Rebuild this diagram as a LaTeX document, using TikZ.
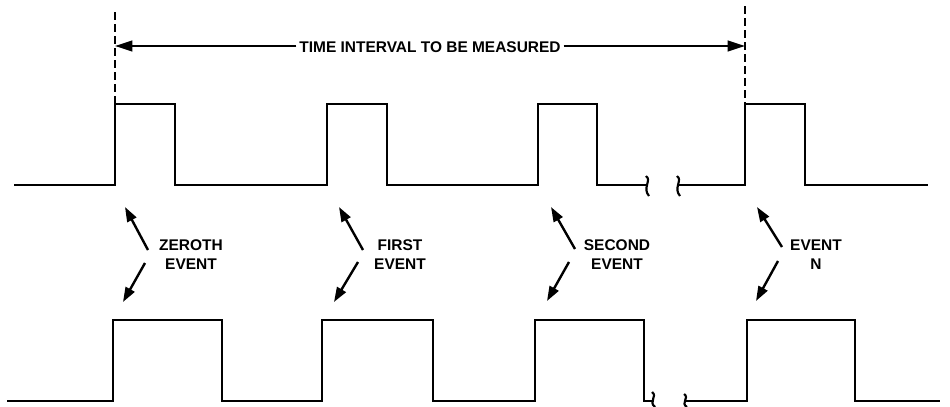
\documentclass[tikz,border=0pt]{standalone}
\usepackage{fontspec}
\setmainfont{Liberation Sans}
\usetikzlibrary{arrows.meta}
\begin{document}
\begin{tikzpicture}[x=0.75pt,y=-0.75pt,
  wave/.style={line width=1.8pt,line join=miter},
  dashline/.style={line width=1.5pt,dash pattern=on 6pt off 3pt},
  spanarrow/.style={line width=1.6pt,-{Triangle[length=13pt,width=8pt]}},
  evarrow/.style={line width=1.8pt,-{Triangle[length=11pt,width=7.5pt]}},
  lbl/.style={font=\fontsize{11.6}{14.2}\selectfont\bfseries,align=center,inner sep=1pt},
  brk/.style={line width=1.6pt}]
\useasboundingbox (0,0) rectangle (950,407);
% top waveform
\draw[wave] (14,185) -- (115,185) -- (115,104) -- (175,104) -- (175,185)
  -- (327,185) -- (327,104) -- (387,104) -- (387,185)
  -- (538,185) -- (538,104) -- (597,104) -- (597,185) -- (648,185);
\draw[brk] (646,176) .. controls (652,180) and (642,188) .. (649,196);
\draw[brk] (677,176) .. controls (683,180) and (673,188) .. (680,196);
\draw[wave] (679,185) -- (745,185) -- (745,104) -- (805,104) -- (805,185) -- (928,185);
% dashed markers
\coordinate (d0t) at (115,12);
\coordinate (d0b) at (115,104);
\coordinate (dnt) at (745,6);
\coordinate (dnb) at (745,104);
\draw[dashline] (d0t) -- (d0b);
\draw[dashline] (dnt) -- (dnb);
% interval label and arrows
\node[lbl,inner sep=2pt] (ti) at (430,47) {TIME INTERVAL TO BE MEASURED};
\coordinate (al) at (115,46);
\coordinate (ar) at (745,46);
\draw[spanarrow] (ti.west |- al) -- (al);
\draw[spanarrow] (ti.east |- ar) -- (ar);
% bottom waveform
\draw[wave] (7,401) -- (113,401) -- (113,320) -- (222,320) -- (222,401)
  -- (322,401) -- (322,320) -- (433,320) -- (433,401)
  -- (535,401) -- (535,320) -- (644,320) -- (644,401) -- (654,401);
\draw[brk] (652,392) .. controls (658,396) and (648,402) .. (655,407);
\draw[brk] (684,394) .. controls (690,398) and (680,403) .. (687,407);
\draw[wave] (686,401) -- (747,401) -- (747,320) -- (855,320) -- (855,401) -- (940,401);
% event labels
\node[lbl] (e0) at (191,254.5) {ZEROTH\\EVENT};
\node[lbl] (e1) at (400,254.5) {FIRST\\EVENT};
\node[lbl] (e2) at (617,254.5) {SECOND\\EVENT};
\node[lbl] (en) at (816,254.5) {EVENT\\N};
% event arrows
\coordinate (u0a) at (148,250); \coordinate (u0b) at (125,207);
\coordinate (l0a) at (145,263); \coordinate (l0b) at (123,302);
\coordinate (u1a) at (363,250); \coordinate (u1b) at (339,207);
\coordinate (l1a) at (358,262); \coordinate (l1b) at (334,302);
\coordinate (u2a) at (575,249); \coordinate (u2b) at (551,207);
\coordinate (l2a) at (569,262); \coordinate (l2b) at (547,301);
\coordinate (una) at (782,247); \coordinate (unb) at (757,207);
\coordinate (lna) at (778,261); \coordinate (lnb) at (756,301);
\draw[evarrow] (u0a) -- (u0b);
\draw[evarrow] (l0a) -- (l0b);
\draw[evarrow] (u1a) -- (u1b);
\draw[evarrow] (l1a) -- (l1b);
\draw[evarrow] (u2a) -- (u2b);
\draw[evarrow] (l2a) -- (l2b);
\draw[evarrow] (una) -- (unb);
\draw[evarrow] (lna) -- (lnb);
\end{tikzpicture}
\end{document}
